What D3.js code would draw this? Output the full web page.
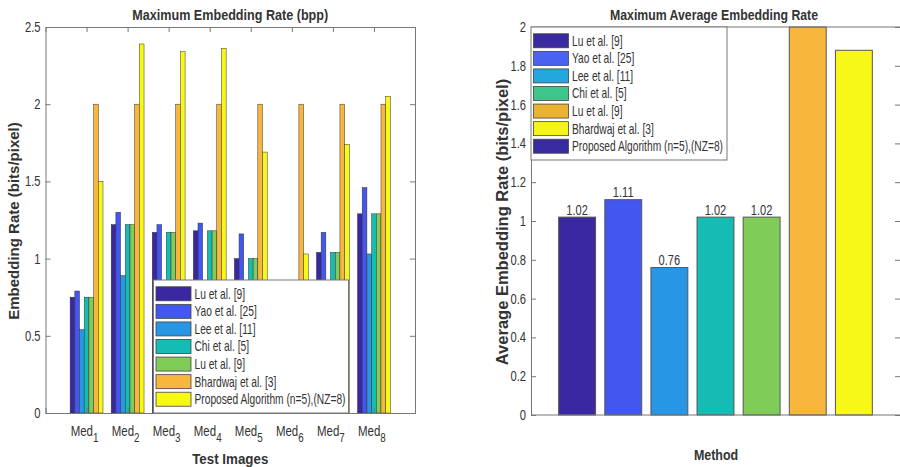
<!DOCTYPE html>
<html>
<head>
<meta charset="utf-8">
<script src="https://cdn.jsdelivr.net/npm/d3@7"></script>
<style>
  html, body { margin: 0; padding: 0; background: #fff; }
  svg { display: block; }
  text { font-family: "Liberation Sans", Arial, Helvetica, sans-serif; fill: #333; }
</style>
</head>
<body>
<svg id="chart" width="900" height="467"></svg>
<script>
// ---- Left panel: maximum embedding rate per test image ----
const categories = ["Med1", "Med2", "Med3", "Med4", "Med5", "Med6", "Med7", "Med8"];
const seriesNames = ["Lu et al. [9]", "Yao et al. [25]", "Lee  et al. [11]", "Chi et al. [5]",
                     "Lu et al. [9]", "Bhardwaj et al. [3]", "Proposed Algorithm (n=5),(NZ=8)"];
const luEtAl9    = [0.75, 1.22, 1.17, 1.18, 1.00, 0.80, 1.04, 1.29];
const yaoEtAl25  = [0.79, 1.30, 1.22, 1.23, 1.16, 0.84, 1.17, 1.46];
const leeEtAl11  = [0.54, 0.89, 0.70, 0.72, 0.60, 0.62, 0.65, 1.03];
const chiEtAl5   = [0.75, 1.22, 1.17, 1.18, 1.00, 0.80, 1.04, 1.29];
const luEtAl9b   = [0.75, 1.22, 1.17, 1.18, 1.00, 0.80, 1.04, 1.29];
const bhardwaj3  = [2.00, 2.00, 2.00, 2.00, 2.00, 2.00, 2.00, 2.00];
const proposed   = [1.50, 2.39, 2.34, 2.36, 1.69, 1.03, 1.74, 2.05];
const leftTicks  = [0, 0.5, 1, 1.5, 2, 2.5];

// ---- Right panel: average embedding rate per method ----
const methods      = ["Lu et al. [9]", "Yao et al. [25]", "Lee  et al. [11]", "Chi et al. [5]",
                      "Lu et al. [9]", "Bhardwaj et al. [3]", "Proposed Algorithm (n=5),(NZ=8)"];
const avgRates     = [1.02, 1.11, 0.76, 1.02, 1.02, 2.00, 1.88];
const avgLabels    = ["1.02", "1.11", "0.76", "1.02", "1.02", null, "1.88"];
const rightTicks   = [0, 0.2, 0.4, 0.6, 0.8, 1, 1.2, 1.4, 1.6, 1.8, 2];

// parula-like palette used for the bars
const barColors = ["#3a28a0", "#4456f0", "#2796e4", "#14bcb4", "#80cc58", "#f8b63c", "#f8f818"];
// the right-hand legend uses its own swatch colours
const rightLegendColors = ["#3a2aa0", "#4a62f0", "#22a8dc", "#3cc68c", "#ecb232", "#f6f614", "#3a2aa0"];

const svg = d3.select("#chart");
const axisColor = "#777";
const fmt = d3.format("~g");

// condensed lettering: squeeze a text element horizontally about its anchor point
function squeeze(sel, sx) {
  sel.each(function () {
    const t = d3.select(this);
    const x = +t.attr("x") || 0;
    const y = +t.attr("y") || 0;
    t.attr("transform", `translate(${x},${y}) scale(${sx},1) translate(${-x},${-y})`);
  });
}

function styleAxis(g) {
  g.select(".domain").attr("stroke", axisColor);
  g.selectAll(".tick line").attr("stroke", axisColor);
  g.selectAll(".tick text").attr("fill", "#333").style("font-size", "14px").call(squeeze, 0.8);
}

function drawLegend(parent, x0, y0, w, h, names, colors) {
  const lg = parent.append("g");
  lg.append("rect").attr("x", x0).attr("y", y0).attr("width", w).attr("height", h)
    .attr("fill", "#fff").attr("stroke", axisColor).attr("stroke-width", 1);
  const step = (h - 10) / names.length;
  names.forEach((n, i) => {
    const cy = y0 + 5 + step * (i + 0.5);
    lg.append("rect").attr("x", x0 + 2.5).attr("y", cy - 7).attr("width", 35).attr("height", 14)
      .attr("fill", colors[i]).attr("stroke", "#444").attr("stroke-width", 0.8);
    lg.append("text").attr("x", x0 + 41).attr("y", cy + 5)
      .style("font-size", "14px").text(n).call(squeeze, 0.73);
  });
}

function label(x, y, txt, size, sx, opts = {}) {
  const t = svg.append("text").attr("x", x).attr("y", y).attr("text-anchor", "middle")
    .style("font-size", size + "px").style("font-weight", opts.bold ? "bold" : null)
    .attr("fill", "#222").text(txt);
  if (opts.rotate) {
    t.attr("x", 0).attr("y", 0)
      .attr("transform", `translate(${x},${y}) rotate(-90)`);
  } else {
    t.call(squeeze, sx);
  }
  return t;
}

// ================= LEFT PANEL =================
{
  const L = 45.5, R = 415, T = 27, B = 413;
  const x = d3.scaleLinear().domain([0, categories.length + 1]).range([L, R]);
  const y = d3.scaleLinear().domain([0, 2.5]).range([B, T]);
  const series = [luEtAl9, yaoEtAl25, leeEtAl11, chiEtAl5, luEtAl9b, bhardwaj3, proposed];
  const step = x(1) - x(0);
  const groupW = 0.8 * step;
  const slot = groupW / series.length;

  const g = svg.append("g");
  series.forEach((vals, si) => {
    g.selectAll(null).data(vals).enter().append("rect")
      .attr("x", (d, ci) => x(ci + 1) - groupW / 2 + si * slot)
      .attr("width", slot)
      .attr("y", d => y(d))
      .attr("height", d => y(0) - y(d))
      .attr("fill", barColors[si])
      .attr("stroke", "#333").attr("stroke-width", 0.5);
  });

  const cats = d3.range(1, categories.length + 1);
  g.append("g").attr("transform", `translate(${L},0)`)
    .call(d3.axisLeft(y).tickValues(leftTicks).tickFormat(fmt).tickSize(-5).tickPadding(5))
    .call(styleAxis);
  g.append("g").attr("transform", `translate(${R},0)`)
    .call(d3.axisRight(y).tickValues(leftTicks).tickFormat("").tickSize(-5))
    .call(styleAxis);
  g.append("g").attr("transform", `translate(0,${T})`)
    .call(d3.axisTop(x).tickValues(cats).tickFormat("").tickSize(-5))
    .call(styleAxis);
  g.append("g").attr("transform", `translate(0,${B})`)
    .call(d3.axisBottom(x).tickValues(cats).tickFormat("").tickSize(-5))
    .call(styleAxis);

  // Med labels with subscript index
  categories.forEach((c, i) => {
    const m = c.match(/^(\D+)(\d+)$/);
    const t = g.append("text").attr("x", x(i + 1) - 2).attr("y", B + 23)
      .attr("text-anchor", "middle").style("font-size", "14px");
    t.append("tspan").text(m[1]);
    t.append("tspan").attr("dy", 6).style("font-size", "12px").text(m[2]);
    t.call(squeeze, 0.82);
  });

  drawLegend(g, 153.5, 280, 195, 133, seriesNames, barColors);

  label((L + R) / 2, 20, "Maximum Embedding Rate (bpp)", 15, 0.84, { bold: true });
  label((L + R) / 2, 464, "Test Images", 15, 0.89, { bold: true });
  label(19, (T + B) / 2 + 1, "Embedding Rate (bits/pixel)", 15, 1, { bold: true, rotate: true });
}

// ================= RIGHT PANEL =================
{
  const L = 531, R = 900, T = 27, B = 415;
  const x = d3.scaleLinear().domain([0, methods.length + 1]).range([L, R]);
  const y = d3.scaleLinear().domain([0, 2]).range([B, T]);
  const bw = 0.8 * (x(1) - x(0));

  const g = svg.append("g");
  g.selectAll(null).data(avgRates).enter().append("rect")
    .attr("x", (d, i) => x(i + 1) - bw / 2)
    .attr("width", bw)
    .attr("y", d => y(Math.min(d, 2)))
    .attr("height", d => y(0) - y(Math.min(d, 2)))
    .attr("fill", (d, i) => barColors[i])
    .attr("stroke", "#555").attr("stroke-width", 1);

  g.selectAll(null).data(avgRates).enter().filter((d, i) => avgLabels[i] !== null)
    .append("text")
    .attr("x", (d, i) => x(i + 1)).attr("y", d => y(d) - 2.5)
    .attr("text-anchor", "middle").style("font-size", "15px").attr("fill", "#222")
    .text((d, i) => avgLabels[i])
    .call(squeeze, 0.74);

  g.append("g").attr("transform", `translate(${L},0)`)
    .call(d3.axisLeft(y).tickValues(rightTicks).tickFormat(fmt).tickSize(-5).tickPadding(5))
    .call(styleAxis);
  g.append("g").attr("transform", `translate(${R},0)`)
    .call(d3.axisRight(y).tickValues(rightTicks).tickFormat("").tickSize(-5))
    .call(styleAxis);
  g.append("line").attr("x1", L).attr("x2", R).attr("y1", T).attr("y2", T).attr("stroke", axisColor);
  g.append("line").attr("x1", L).attr("x2", R).attr("y1", B).attr("y2", B).attr("stroke", axisColor);

  drawLegend(g, 531, 27, 196, 133, methods, rightLegendColors);

  label(714, 20, "Maximum Average Embedding Rate", 15, 0.82, { bold: true });
  label(716, 460, "Method", 15, 0.83, { bold: true });
  label(508, (T + B) / 2 + 1, "Average Embedding Rate (bits/pixel)", 16.5, 1, { bold: true, rotate: true });
}
</script>
</body>
</html>
